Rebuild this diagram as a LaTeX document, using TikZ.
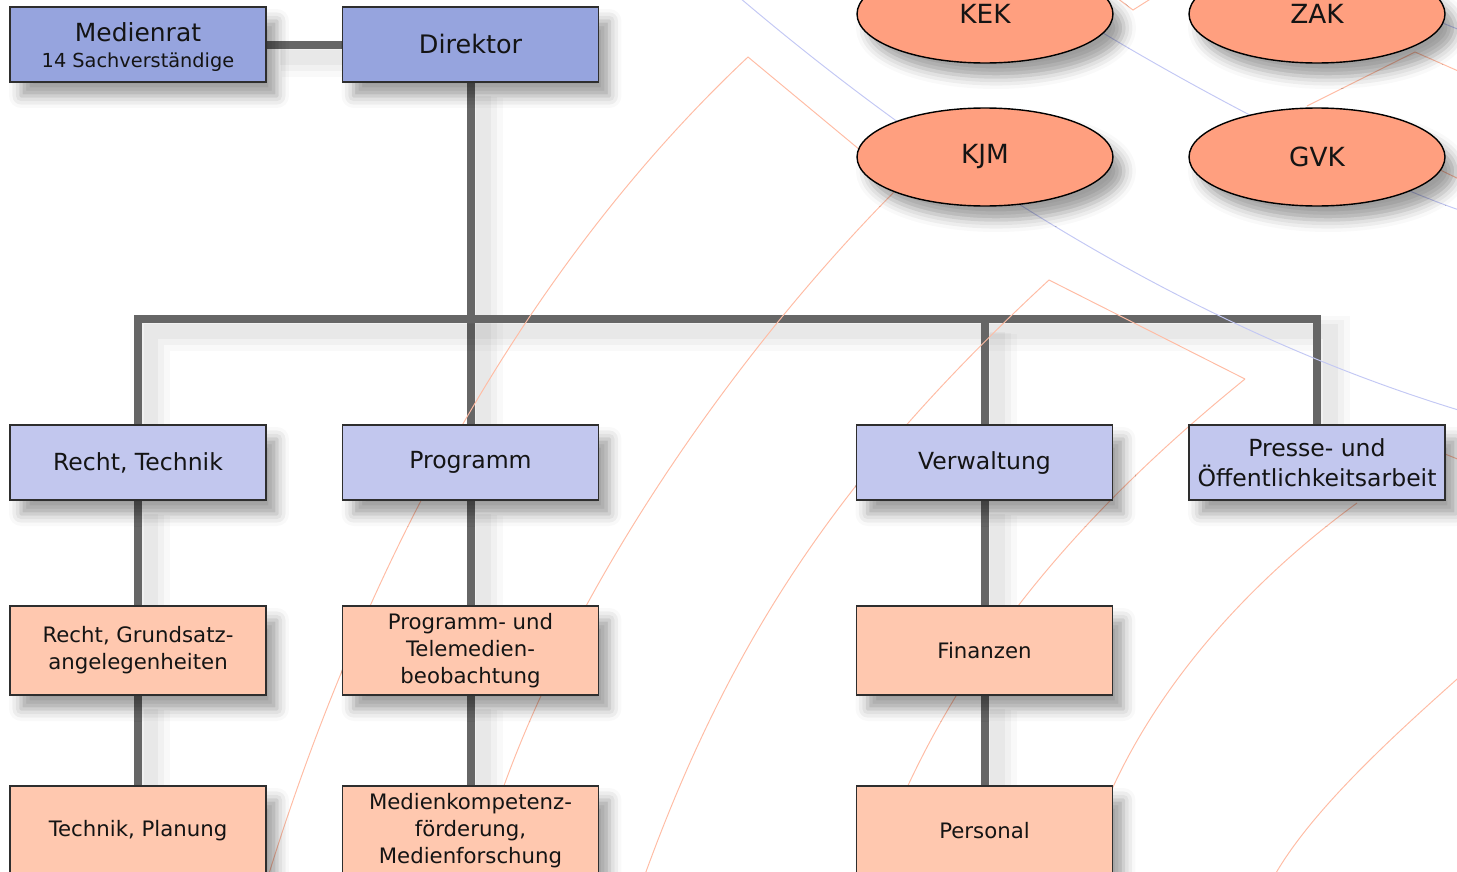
\documentclass[tikz,border=0pt]{standalone}
\usepackage{fontspec}
\setmainfont{DejaVu Sans}
\usetikzlibrary{shapes.geometric,shadows.blur}
\definecolor{topblue}{HTML}{96A4DE}
\definecolor{midblue}{HTML}{C2C7EE}
\definecolor{peach}{HTML}{FFC8AF}
\definecolor{salmon}{HTML}{FF9F7F}
\definecolor{boxline}{HTML}{2E2E2E}
\definecolor{conncol}{HTML}{666666}
\definecolor{textc}{HTML}{141414}
\definecolor{decoorange}{HTML}{FFBCA4}
\definecolor{decoblue}{HTML}{C3C8F4}
\pgfdeclarelayer{bg}
\pgfsetlayers{bg,main}
\begin{document}
\begin{tikzpicture}[x=0.02cm,y=-0.02cm,
  shad/.style={blur shadow={shadow xshift=0.22cm, shadow yshift=-0.28cm, shadow blur radius=0.24cm, shadow opacity=38}},
  box/.style={rectangle, draw=boxline, line width=0.8pt, minimum width=5.12cm, minimum height=1.5cm, inner sep=0pt, align=center, text=textc, shad},
  topbox/.style={box, fill=topblue},
  midbox/.style={box, fill=midblue, font=\fontsize{13.4}{17}\selectfont},
  lowbox/.style={box, fill=peach, minimum height=1.78cm, font=\fontsize{12.1}{15.3}\selectfont},
  org/.style={ellipse, draw=black, line width=0.8pt, fill=salmon, minimum width=5.12cm, minimum height=1.96cm, inner sep=0pt, text=textc, font=\fontsize{15}{17}\selectfont, shad},
  conn/.style={draw=conncol, line width=0.16cm,
    preaction={draw=black, draw opacity=0.025, line width=0.7cm, transform canvas={shift={(0.3cm,-0.3cm)}}},
    preaction={draw=black, draw opacity=0.03, line width=0.5cm, transform canvas={shift={(0.28cm,-0.28cm)}}},
    preaction={draw=black, draw opacity=0.035, line width=0.3cm, transform canvas={shift={(0.26cm,-0.26cm)}}}},
  deco/.style={line width=0.55pt, draw=decoorange},
  decob/.style={line width=0.55pt, draw=decoblue}]
\useasboundingbox (0,0) rectangle (1457,872);
\clip (0,0) rectangle (1457,872);

% decorative background lines
\draw[deco] (860,150) -- (748,57) .. controls (500,290) and (350,610) .. (267,880);
\draw[deco] (900,186) .. controls (730,356) and (537,630) .. (475,880);
\draw[deco] (1245,379) -- (1049,280) .. controls (849,465) and (733,630) .. (643,880);
\draw[deco] (1245,379) .. controls (1065,525) and (938,680) .. (870,880);
\draw[deco] (1357,503) .. controls (1227,598) and (1117,730) .. (1080,880);
\draw[deco] (1465,672) .. controls (1400,730) and (1310,810) .. (1272,880);
\draw[deco] (1307,106) -- (1415,52) -- (1465,74);
\draw[deco] (1117,-2) -- (1133,10) -- (1152,-2);
\draw[deco] (1430,165) -- (1465,182);
\draw[deco] (1440,452) -- (1465,462);
\draw[decob] (740,-2) .. controls (970,193) and (1215,337) .. (1465,412);
\draw[decob] (1103,33) .. controls (1220,103) and (1370,180) .. (1465,212);
\draw[decob] (1440,22) -- (1465,32);

% nodes
\node[topbox] (medienrat) at (138,44.5) {\rule{0pt}{5pt}\\[-3pt]{\fontsize{14.2}{16.4}\selectfont Medienrat}\\[3pt]{\fontsize{11}{13}\selectfont 14 Sachverständige}};
\node[topbox, font=\fontsize{14.5}{17}\selectfont] (direktor) at (470.5,44.5) {Direktor};

\node[org] (kek) at (985,14) {KEK};
\node[org] (zak) at (1317,14) {ZAK};
\node[org] (kjm) at (985,157) {KJM};
\node[org] (gvk) at (1317,157) {GVK};

\node[midbox] (rt) at (138,462.5) {Recht, Technik};
\node[midbox] (prog) at (470.5,462.5) {Programm};
\node[midbox] (verw) at (984.5,462.5) {Verwaltung};
\node[midbox] (presse) at (1317,462.5) {Presse- und\\Öffentlichkeitsarbeit};

\node[lowbox] (rg) at (138,650.5) {Recht, Grundsatz-\\angelegenheiten};
\node[lowbox] (pt) at (470.5,650.5) {Programm- und\\Telemedien-\\beobachtung};
\node[lowbox] (fin) at (984.5,650.5) {Finanzen};

\node[lowbox] (tp) at (138,830.5) {Technik, Planung};
\node[lowbox] (mk) at (470.5,830.5) {Medienkompetenz-\\förderung,\\Medienforschung};
\node[lowbox] (pers) at (984.5,830.5) {Personal};

\coordinate (bus) at (0,318.5);

% connectors
\begin{pgfonlayer}{bg}
\draw[conn] (medienrat.east |- 0,45) -- (direktor.west |- 0,45);
\draw[conn] (direktor.south) -- (prog.north);
\draw[conn] (rt.north) -- (rt.north |- bus) -| (presse.north);
\draw[conn] (verw.north |- bus) -- (verw.north);
\draw[conn] (rt.south) -- (rg.north);
\draw[conn] (rg.south) -- (tp.north);
\draw[conn] (prog.south) -- (pt.north);
\draw[conn] (pt.south) -- (mk.north);
\draw[conn] (verw.south) -- (fin.north);
\draw[conn] (fin.south) -- (pers.north);
\end{pgfonlayer}
\end{tikzpicture}
\end{document}
